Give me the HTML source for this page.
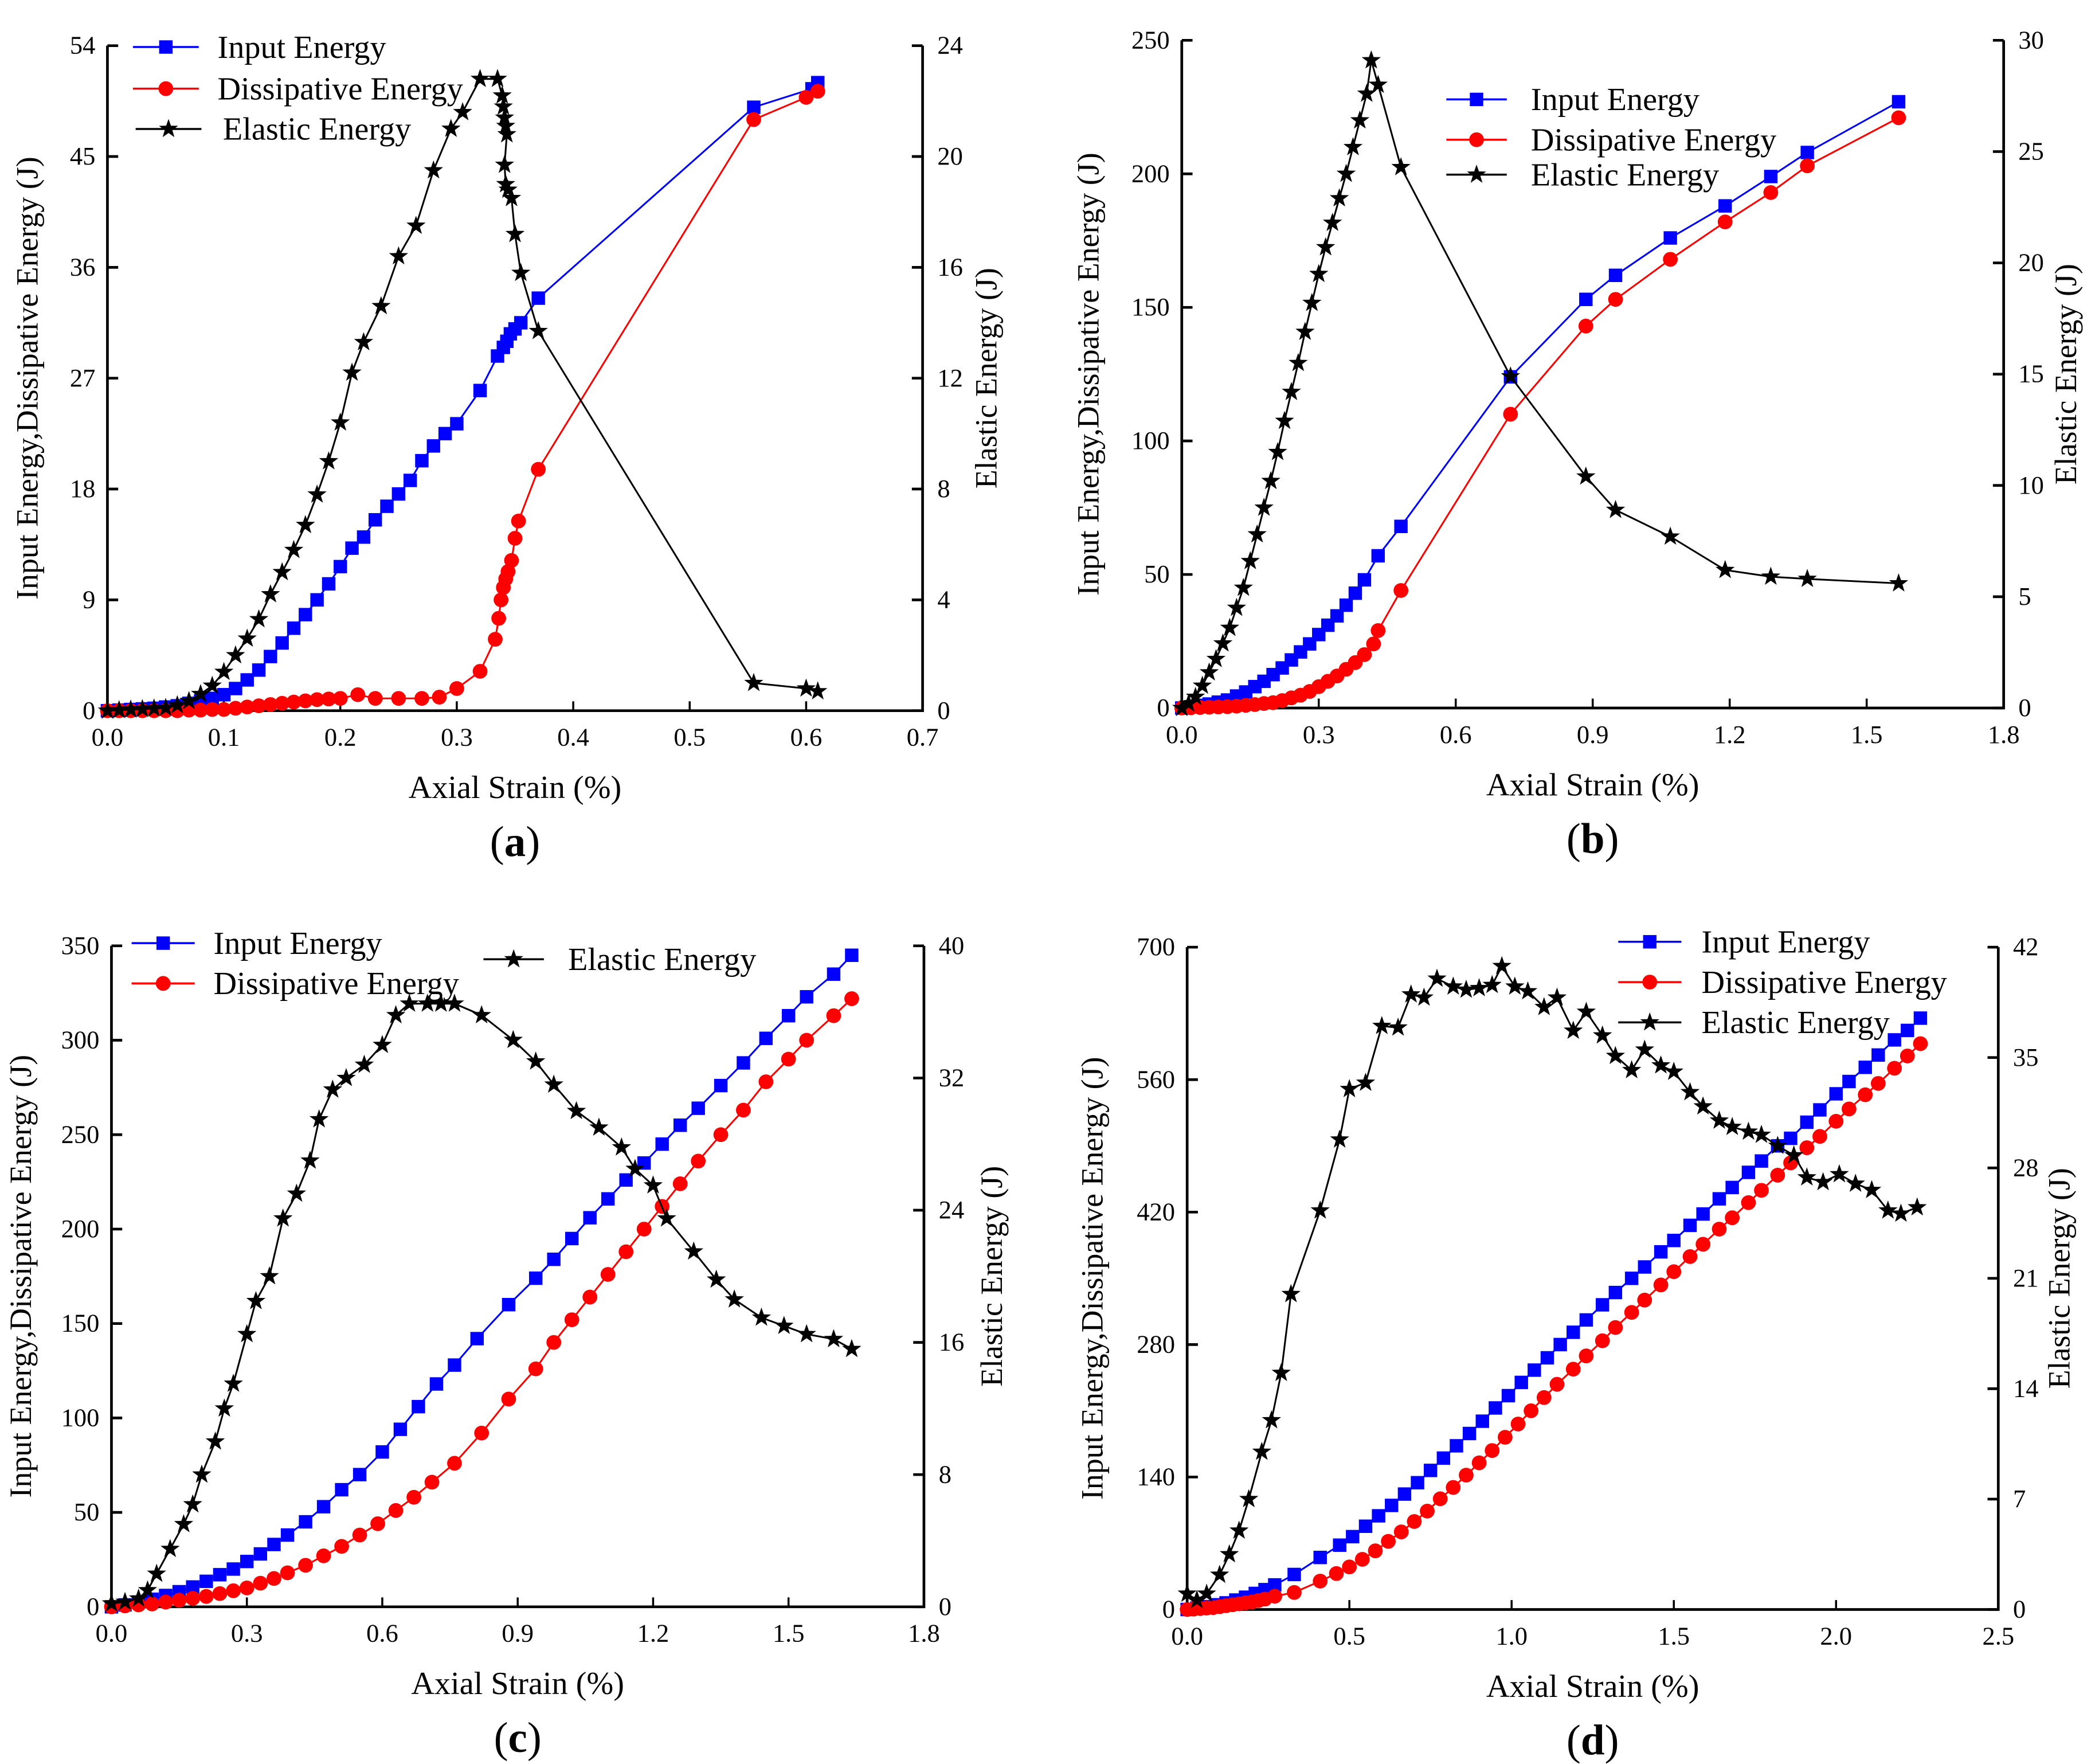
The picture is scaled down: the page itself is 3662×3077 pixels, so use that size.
<!DOCTYPE html>
<html><head><meta charset="utf-8"><style>
html,body{margin:0;padding:0;background:#fff}
svg{display:block}
text{font-family:"Liberation Serif",serif;fill:#000}
</style></head><body>
<svg id="fig" width="3662" height="3077" viewBox="0 0 1563 1313" preserveAspectRatio="none" xmlns="http://www.w3.org/2000/svg" font-family="Liberation Serif, serif"></svg>
<script>
// Panel (a)
const aInX=[0,0.01,0.02,0.03,0.04,0.05,0.06,0.07,0.08,0.09,0.1,0.11,0.12,0.13,0.14,0.15,0.16,0.17,0.18,0.19,0.2,0.21,0.22,0.23,0.24,0.25,0.26,0.27,0.28,0.29,0.3,0.32,0.335,0.34,0.343,0.346,0.35,0.355,0.37,0.555,0.605,0.61];
const aInY=[0,0.05,0.1,0.15,0.2,0.3,0.4,0.6,0.8,1.0,1.3,1.8,2.5,3.3,4.4,5.5,6.7,7.8,9.0,10.3,11.7,13.2,14.1,15.5,16.6,17.6,18.7,20.3,21.5,22.5,23.3,26.0,28.8,29.5,30.0,30.6,31.0,31.5,33.5,49.0,50.5,51.0];
const aDiX=[0,0.01,0.02,0.03,0.04,0.05,0.06,0.07,0.08,0.09,0.1,0.11,0.12,0.13,0.14,0.15,0.16,0.17,0.18,0.19,0.2,0.215,0.23,0.25,0.27,0.285,0.3,0.32,0.333,0.336,0.338,0.34,0.342,0.344,0.347,0.35,0.353,0.37,0.555,0.6,0.61];
const aDiY=[0,0,0,0,0,0,0,0.05,0.05,0.1,0.1,0.2,0.3,0.4,0.5,0.6,0.7,0.8,0.9,0.95,1.0,1.3,1.0,1.0,1.0,1.1,1.8,3.2,5.8,7.5,9.0,10.0,10.7,11.3,12.2,14.0,15.4,19.6,48.0,49.8,50.3];
const aElX=[0,0.01,0.02,0.03,0.04,0.05,0.06,0.07,0.08,0.09,0.1,0.11,0.12,0.13,0.14,0.15,0.16,0.17,0.18,0.19,0.2,0.21,0.22,0.235,0.25,0.265,0.28,0.295,0.305,0.32,0.335,0.339,0.34,0.341,0.342,0.343,0.341,0.342,0.344,0.347,0.35,0.355,0.37,0.555,0.6,0.61];
const aElY=[0,0.02,0.04,0.06,0.08,0.1,0.2,0.35,0.6,0.9,1.4,2.0,2.6,3.3,4.2,5.0,5.8,6.7,7.8,9.0,10.4,12.2,13.3,14.6,16.4,17.5,19.5,21.0,21.6,22.8,22.8,22.2,21.8,21.4,21.1,20.8,19.7,19.0,18.8,18.5,17.2,15.8,13.7,1.0,0.8,0.7];
// Panel (b)
const bInX=[0,0.02,0.04,0.06,0.08,0.1,0.12,0.14,0.16,0.18,0.2,0.22,0.24,0.26,0.28,0.3,0.32,0.34,0.36,0.38,0.4,0.43,0.48,0.72,0.885,0.95,1.07,1.19,1.29,1.37,1.57];
const bInY=[0,0.5,1,1.5,2.2,3,4.5,6,8,10,12.5,15,18,21,24,27.5,31,34.5,38.5,43,48,57,68,124,153,162,176,188,199,208,227];
const bDiX=[0,0.02,0.04,0.06,0.08,0.1,0.12,0.14,0.16,0.18,0.2,0.22,0.24,0.26,0.28,0.3,0.32,0.34,0.36,0.38,0.4,0.42,0.43,0.48,0.72,0.885,0.95,1.07,1.19,1.29,1.37,1.57];
const bDiY=[0,0.1,0.2,0.3,0.4,0.5,0.7,1,1.3,1.7,2,2.8,3.8,4.8,6.2,8,10,12,14.5,17,20,24,29,44,110,143,153,168,182,193,203,221];
const bElX=[0,0.015,0.03,0.045,0.06,0.075,0.09,0.105,0.12,0.135,0.15,0.165,0.18,0.195,0.21,0.225,0.24,0.255,0.27,0.285,0.3,0.315,0.33,0.345,0.36,0.375,0.39,0.405,0.415,0.43,0.48,0.72,0.885,0.95,1.07,1.19,1.29,1.37,1.57];
const bElY=[0,0.2,0.5,1.0,1.6,2.2,2.9,3.6,4.5,5.4,6.6,7.8,9.0,10.2,11.5,12.9,14.2,15.5,16.9,18.2,19.5,20.7,21.8,22.9,24.0,25.2,26.4,27.6,29.1,28.0,24.3,14.9,10.4,8.9,7.7,6.2,5.9,5.8,5.6];
// Panel (c)
const cInX=[0,0.03,0.06,0.09,0.12,0.15,0.18,0.21,0.24,0.27,0.3,0.33,0.36,0.39,0.43,0.47,0.51,0.55,0.6,0.64,0.68,0.72,0.76,0.81,0.88,0.94,0.98,1.02,1.06,1.1,1.14,1.18,1.22,1.26,1.3,1.35,1.4,1.45,1.5,1.54,1.6,1.64];
const cInY=[0,1,2.5,4,6,8,10.5,13.5,17,20,24,28,33,38,45,53,62,70,82,94,106,118,128,142,160,174,184,195,206,216,226,235,245,255,264,276,288,301,313,323,335,345];
const cDiX=[0,0.03,0.06,0.09,0.12,0.15,0.18,0.21,0.24,0.27,0.3,0.33,0.36,0.39,0.43,0.47,0.51,0.55,0.59,0.63,0.67,0.71,0.76,0.82,0.88,0.94,0.98,1.02,1.06,1.1,1.14,1.18,1.22,1.26,1.3,1.35,1.4,1.45,1.5,1.54,1.6,1.64];
const cDiY=[0,0.5,1,1.5,2.5,3.5,4.5,5.5,7,8.5,10,12.5,15,18,22,27,32,38,44,51,58,66,76,92,110,126,140,152,164,176,188,200,212,224,236,250,263,278,290,300,313,322];
const cElX=[0,0.03,0.06,0.08,0.1,0.13,0.16,0.18,0.2,0.23,0.25,0.27,0.3,0.32,0.35,0.38,0.41,0.44,0.46,0.49,0.52,0.56,0.6,0.63,0.66,0.7,0.73,0.76,0.82,0.89,0.94,0.98,1.03,1.08,1.13,1.16,1.2,1.23,1.29,1.34,1.38,1.44,1.49,1.54,1.6,1.64];
const cElY=[0.2,0.3,0.5,1,2,3.5,5,6.2,8,10,12,13.5,16.5,18.5,20,23.5,25,27,29.5,31.3,32,32.8,34,35.8,36.5,36.5,36.5,36.5,35.8,34.3,33,31.6,30,29,27.8,26.5,25.5,23.5,21.5,19.8,18.6,17.5,17,16.5,16.2,15.6];
// Panel (d)
const dInX=[0,0.03,0.06,0.09,0.12,0.15,0.18,0.21,0.24,0.27,0.33,0.41,0.47,0.51,0.55,0.59,0.63,0.67,0.71,0.75,0.79,0.83,0.87,0.91,0.95,0.99,1.03,1.07,1.11,1.15,1.19,1.23,1.28,1.32,1.37,1.41,1.46,1.5,1.55,1.59,1.64,1.68,1.73,1.77,1.82,1.86,1.91,1.95,2.0,2.04,2.09,2.13,2.18,2.22,2.26];
const dInY=[0,1.5,3,5,7,10,13,17,21,26,37,55,68,77,88,99,110,122,134,147,160,173,186,199,213,226,240,253,266,280,293,306,322,335,350,362,378,390,406,418,434,446,462,474,490,498,515,528,545,558,573,586,602,612,625];
const dDiX=[0,0.02,0.04,0.06,0.08,0.1,0.12,0.14,0.16,0.18,0.2,0.22,0.24,0.27,0.33,0.41,0.46,0.5,0.54,0.58,0.62,0.66,0.7,0.74,0.78,0.82,0.86,0.9,0.94,0.98,1.02,1.06,1.1,1.14,1.19,1.23,1.28,1.32,1.37,1.41,1.46,1.5,1.55,1.59,1.64,1.68,1.73,1.77,1.82,1.86,1.91,1.95,2.0,2.04,2.09,2.13,2.18,2.22,2.26];
const dDiY=[0,0.5,1,1.5,2,3,4,5,6,7,8,9.5,11,14,18,30,38,45,53,62,72,82,93,104,117,129,142,155,168,182,196,210,224,238,254,268,284,298,314,327,343,357,373,386,402,414,430,443,459,472,488,500,516,529,544,556,572,585,598];
const dElX=[0,0.03,0.06,0.1,0.13,0.16,0.19,0.23,0.26,0.29,0.32,0.41,0.47,0.5,0.55,0.6,0.65,0.69,0.73,0.77,0.82,0.86,0.9,0.94,0.97,1.01,1.05,1.1,1.14,1.19,1.23,1.28,1.32,1.37,1.41,1.46,1.5,1.55,1.59,1.64,1.68,1.73,1.77,1.82,1.87,1.91,1.96,2.01,2.06,2.11,2.16,2.2,2.25];
const dElY=[1,0.6,1.0,2.2,3.5,5,7,10,12,15,20,25.3,29.8,33.0,33.4,37,36.9,39,38.8,40.0,39.5,39.3,39.4,39.6,40.8,39.5,39.2,38.2,38.8,36.7,37.9,36.4,35.1,34.2,35.5,34.5,34.1,32.8,31.9,31.0,30.6,30.3,30.1,29.4,28.8,27.4,27.1,27.6,27.0,26.6,25.3,25.1,25.5];

const NS="http://www.w3.org/2000/svg";
const svg=document.getElementById('fig');
function mk(tag,attrs,parent){const e=document.createElementNS(NS,tag);for(const k in attrs)e.setAttribute(k,attrs[k]);(parent||svg).appendChild(e);return e;}
function starPts(cx,cy,r){let p=[];for(let i=0;i<10;i++){const a=-Math.PI/2+i*Math.PI/5;const rr=i%2?r*0.4:r;p.push((cx+rr*Math.cos(a)).toFixed(2)+','+(cy+rr*Math.sin(a)).toFixed(2));}return p.join(' ');}
function marker(type,x,y,g){
  let m;
  if(type==='sq'){m=mk('rect',{x:x-5,y:y-5,width:10,height:10,fill:'#0000ff'},g);}
  else if(type==='ci'){m=mk('circle',{cx:x,cy:y,r:5.5,fill:'#ff0000'},g);}
  else {m=mk('polygon',{points:starPts(x,y,7.5),fill:'#000'},g);}
  return m;
}
const FF='Liberation Serif, serif';
function panel(P){
  const g=mk('g',{});
  
  
  const X=v=>P.x0+(v/P.xmax)*(P.x1-P.x0);
  const YL=v=>P.yb-(v/P.lmax)*(P.yb-P.yt);
  const YR=v=>P.yb-(v/P.rmax)*(P.yb-P.yt);
  const ax=mk('path',{d:`M${P.x0},${P.yt}V${P.yb}H${P.x1}V${P.yt}`,fill:'none',stroke:'#000','stroke-width':2},g);
  
  
  for(let i=0;i<=Math.round(P.xmax/P.xstep);i++){const v=i*P.xstep;const x=X(v);
    mk('line',{x1:x,y1:P.yb,x2:x,y2:P.yb-7,stroke:'#000','stroke-width':1.5},g);
    const t=mk('text',{x:x,y:P.yb+26,'text-anchor':'middle','font-size':19,'font-family':FF},g);t.textContent=v.toFixed(1);
    
    }
  for(let i=0;i<=Math.round(P.lmax/P.lstep);i++){const v=i*P.lstep;const y=YL(v);
    mk('line',{x1:P.x0,y1:y,x2:P.x0+8,y2:y,stroke:'#000','stroke-width':2},g);
    const t=mk('text',{x:P.x0-9,y:y+6,'text-anchor':'end','font-size':19,'font-family':FF},g);t.textContent=String(v);
    
    }
  for(let i=0;i<=Math.round(P.rmax/P.rstep);i++){const v=i*P.rstep;const y=YR(v);
    mk('line',{x1:P.x1,y1:y,x2:P.x1-8,y2:y,stroke:'#000','stroke-width':2},g);
    const t=mk('text',{x:P.x1+11,y:y+6,'text-anchor':'start','font-size':19,'font-family':FF},g);t.textContent=String(v);
    
    }
  const cy=(P.yb+P.yt)/2, cx=(P.x0+P.x1)/2;
  let t=mk('text',{x:P.lt,y:cy,'text-anchor':'middle','font-size':23,'font-family':FF,transform:`rotate(-90 ${P.lt} ${cy})`},g);t.textContent='Input Energy,Dissipative Energy (J)';
  
  
  t=mk('text',{x:P.rt,y:cy,'text-anchor':'middle','font-size':23,'font-family':FF,transform:`rotate(-90 ${P.rt} ${cy})`},g);t.textContent='Elastic Energy (J)';
  
  
  t=mk('text',{x:cx,y:P.yb+65,'text-anchor':'middle','font-size':24,'font-family':FF},g);t.textContent='Axial Strain (%)';
  
  
  t=mk('text',{x:cx,y:P.yb+108,'text-anchor':'middle','font-size':32,'font-family':FF},g);
  t.innerHTML='(<tspan font-weight="bold">'+P.id+'</tspan>)';
  
  
  const series=[[P.inX,P.inY,YL,'#0000ff','sq','input-energy'],[P.diX,P.diY,YL,'#ff0000','ci','dissipative-energy'],[P.elX,P.elY,YR,'#000','st','elastic-energy']];
  series.forEach(s=>{
    const sg=mk('g',{},g);
    
    
    const d=s[0].map((v,i)=>(i?'L':'M')+X(v).toFixed(2)+','+s[2](s[1][i]).toFixed(2)).join('');
    mk('path',{d:d,fill:'none',stroke:s[3],'stroke-width':1.3},sg);
    s[0].forEach((v,i)=>{const m=marker(s[4],X(v),s[2](s[1][i]),sg);
      
      });
  });
  const lg=mk('g',{},g);
  
  
  P.leg.forEach((L,i)=>{
    const s=series[i];
    const eg=mk('g',{},lg);
    
    
    mk('line',{x1:L[0],y1:L[2],x2:L[1],y2:L[2],stroke:s[3],'stroke-width':1.5},eg);
    marker(s[4],(L[0]+L[1])/2,L[2],eg);
    const tt=mk('text',{x:L[3],y:L[2]+8,'font-size':24,'font-family':FF},eg);tt.textContent=['Input Energy','Dissipative Energy','Elastic Energy'][i];
  });
}
panel({id:'a',x0:80,x1:687,yb:529,yt:34,xmax:0.7,xstep:0.1,lmax:54,lstep:9,rmax:24,rstep:4,lt:28,rt:742,
  inX:aInX,inY:aInY,diX:aDiX,diY:aDiY,elX:aElX,elY:aElY,leg:[[99,148,35,162],[99,148,66,162],[101,150,96,166]]});
panel({id:'b',x0:880,x1:1492,yb:527,yt:30,xmax:1.8,xstep:0.3,lmax:250,lstep:50,rmax:30,rstep:5,lt:818,rt:1546,
  inX:bInX,inY:bInY,diX:bDiX,diY:bDiY,elX:bElX,elY:bElY,leg:[[1077,1122,74,1140],[1077,1122,104,1140],[1077,1122,130,1140]]});
panel({id:'c',x0:83,x1:688,yb:1196,yt:704,xmax:1.8,xstep:0.3,lmax:350,lstep:50,rmax:40,rstep:8,lt:23,rt:746,
  inX:cInX,inY:cInY,diX:cDiX,diY:cDiY,elX:cElX,elY:cElY,leg:[[98,145,702,159],[98,145,732,159],[360,405,714,423]]});
panel({id:'d',x0:884,x1:1488,yb:1198,yt:705,xmax:2.5,xstep:0.5,lmax:700,lstep:140,rmax:42,rstep:7,lt:821,rt:1541,
  inX:dInX,inY:dInY,diX:dDiX,diY:dDiY,elX:dElX,elY:dElY,leg:[[1205,1252,701,1267],[1205,1252,731,1267],[1205,1252,761,1267]]});
</script>
</body></html>
